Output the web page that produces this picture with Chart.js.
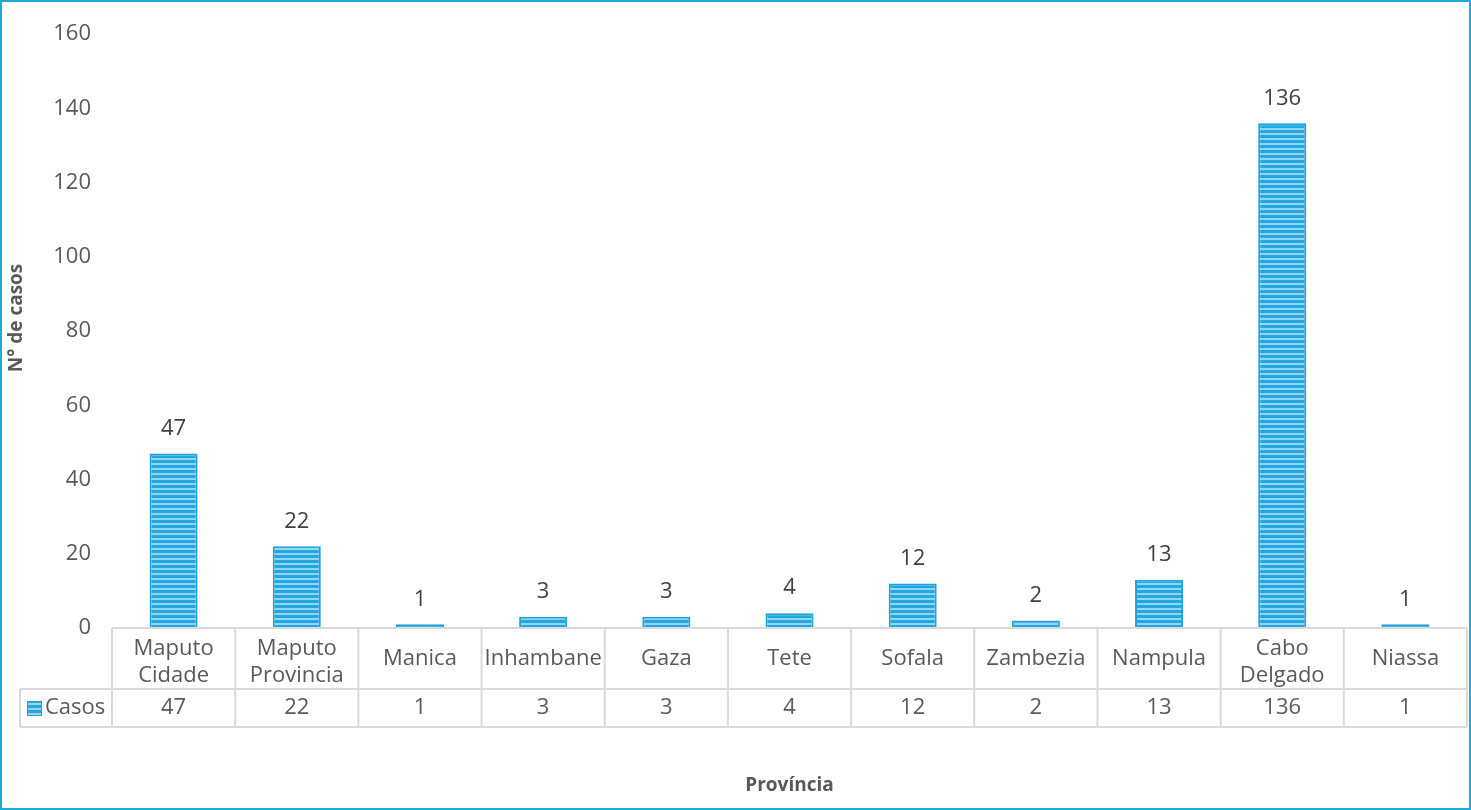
<!DOCTYPE html>
<html>
<head>
<meta charset="utf-8">
<style>
html,body{margin:0;padding:0;background:#fff;}
#wrap{width:1471px;height:810px;position:relative;}
</style>
<script src="https://cdn.jsdelivr.net/npm/chart.js@4.4.1/dist/chart.umd.min.js"></script>
</head>
<body>
<div id="wrap"><canvas id="c" width="1471" height="810"></canvas></div>
<script>
const categories = [["Maputo","Cidade"],["Maputo","Provincia"],"Manica","Inhambane","Gaza","Tete","Sofala","Zambezia","Nampula",["Cabo","Delgado"],"Niassa"];
const seriesName = "Casos";
const casos = [47,22,1,3,3,4,12,2,13,136,1];
const yTicks = [0,20,40,60,80,100,120,140,160];
const yTitle = "N° de casos";
const xTitle = "Província";

const FONT = "'Open Sans', sans-serif";
const TXT = "#595959";
const FS = 22;

function makePattern(ctx){
  const t = document.createElement('canvas');
  t.width = 8; t.height = 5;
  const g = t.getContext('2d');
  g.fillStyle = '#93d5f3'; g.fillRect(0,0,8,5);
  g.fillStyle = '#22a7e1'; g.fillRect(0,0,8,3);
  return ctx.createPattern(t,'repeat');
}

const ctx = document.getElementById('c').getContext('2d');
const pattern = makePattern(ctx);

const framePlugin = {
  id:'frame',
  beforeDraw(chart){
    const c = chart.ctx;
    c.save();
    c.fillStyle='#fff';
    c.fillRect(0,0,chart.width,chart.height);
    c.restore();
  },
  afterDraw(chart){
    const c = chart.ctx;
    const area = chart.chartArea;
    const xs = chart.scales.x;
    const meta = chart.getDatasetMeta(0);
    c.save();
    // data labels above bars
    c.font = FS + "px " + FONT;
    c.fillStyle = '#404040';
    c.textAlign = 'center';
    c.textBaseline = 'middle';
    meta.data.forEach((bar,i)=>{
      c.fillText(String(casos[i]), bar.x, bar.y - 25);
    });
    // data table
    const top = area.bottom, mid = area.bottom + 61, bot = area.bottom + 99;
    const legLeft = 20;
    c.strokeStyle = '#d9d9d9';
    c.lineWidth = 2;
    c.beginPath();
    c.moveTo(area.left, top); c.lineTo(area.right, top);
    c.moveTo(legLeft, mid); c.lineTo(area.right, mid);
    c.moveTo(legLeft, bot); c.lineTo(area.right, bot);
    const n = casos.length;
    const step = (area.right - area.left)/n;
    for(let i=0;i<=n;i++){
      const x = area.left + i*step;
      c.moveTo(x, top); c.lineTo(x, bot);
    }
    c.moveTo(legLeft, mid); c.lineTo(legLeft, bot);
    c.stroke();
    // category labels (first table row)
    c.fillStyle = TXT;
    c.font = FS + "px " + FONT;
    c.textAlign = 'center';
    const cy = (top+mid)/2;
    categories.forEach((lab,i)=>{
      const x = xs.getPixelForValue(i);
      if (Array.isArray(lab)) {
        c.fillText(lab[0], x, cy - 10);
        c.fillText(lab[1], x, cy + 17);
      } else {
        c.fillText(lab, x, cy);
      }
    });
    // legend cell + values row
    const ry = (mid+bot)/2;
    c.fillStyle = pattern;
    c.fillRect(27, ry-7, 15, 15);
    c.strokeStyle = '#1fa3dd'; c.lineWidth = 1;
    c.strokeRect(27.5, ry-6.5, 14, 14);
    c.fillStyle = TXT;
    c.textAlign = 'left';
    c.fillText(seriesName, 45, ry);
    c.textAlign = 'center';
    casos.forEach((v,i)=>{
      c.fillText(String(v), xs.getPixelForValue(i), ry);
    });
    // y-axis title
    c.save();
    c.translate(17, 318);
    c.rotate(-Math.PI/2);
    c.font = "bold 19px " + FONT;
    c.textAlign = 'center';
    c.textBaseline = 'middle';
    c.fillText(yTitle, 0, 0);
    c.restore();
    // outer border
    c.strokeStyle = '#1fa8e0';
    c.lineWidth = 2;
    c.strokeRect(1,1,chart.width-2,chart.height-2);
    c.restore();
  }
};

new Chart(ctx, {
  type:'bar',
  data:{
    labels: categories,
    datasets:[{
      label: seriesName,
      data: casos,
      backgroundColor: pattern,
      borderColor: '#1fa3dd',
      borderWidth: 2,
      categoryPercentage: 1,
      barPercentage: 0.39
    }]
  },
  options:{
    responsive:false,
    animation:false,
    layout:{padding:{left:4,right:4,top:25,bottom:5}},
    plugins:{legend:{display:false},tooltip:{enabled:false}},
    scales:{
      x:{
        grid:{display:false,drawTicks:false},
        border:{display:false},
        ticks:{display:false},
        title:{display:true,text:xTitle,color:TXT,font:{family:FONT,size:19,weight:'bold'},padding:{top:0,bottom:8}},
        afterFit(s){ s.height = 177; }
      },
      y:{
        min:0,max:160,
        grid:{display:false,drawTicks:false},
        border:{display:false},
        afterBuildTicks(s){ s.ticks = yTicks.map(v=>({value:v})); },
        ticks:{color:TXT,font:{family:FONT,size:FS},padding:21},
        afterFit(s){ s.width = 108; }
      }
    }
  },
  plugins:[framePlugin]
});
</script>
</body>
</html>
